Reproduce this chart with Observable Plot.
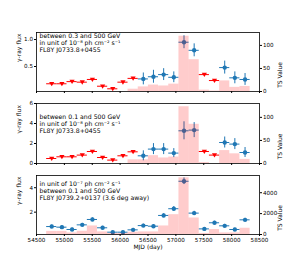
<!DOCTYPE html>
<html><head><meta charset="utf-8">
<script src="https://cdn.jsdelivr.net/npm/d3@7"></script>
<script src="https://cdn.jsdelivr.net/npm/@observablehq/plot@0.6"></script>
<style>
body{margin:0;background:#fff}
#c{position:relative;width:288px;height:264px;overflow:hidden;font-family:"DejaVu Sans";color:#000}
#c svg{position:absolute;left:0;overflow:visible}
</style></head><body><div id="c"></div>
<script>
// MJD bin centres (half-year bins)
const mjd = [54773, 54956, 55138, 55321, 55503, 55686, 55868, 56051, 56233, 56416,
             56598, 56781, 56963, 57146, 57328, 57511, 57693, 57876, 58058, 58241];
const binHalf = 91;
const xTicks = [54500, 55000, 55500, 56000, 56500, 57000, 57500, 58000, 58500];

// Panel 1: 0.3-500 GeV, FL8Y J0733.8+0455 (1e-8)
const flux1 = [0.18, 0.18, 0.22, 0.21, 0.26, 0.135, 0.087, 0.21, 0.28, 0.27,
               0.31, 0.35, 0.30, 0.95, 0.80, 0.35, 0.24, 0.48, 0.29, 0.26];
const err1  = [0, 0, 0, 0, 0, 0, 0, 0, 0, 0.11,
               0.12, 0.11, 0.10, 0.12, 0.12, 0, 0, 0.12, 0.11, 0.11];
const ul1   = [1, 1, 1, 1, 1, 1, 1, 1, 1, 0, 0, 0, 0, 0, 0, 1, 1, 0, 0, 0];
const ts1   = [0, 0, 0, 0, 0, 0, 0, 0, 5, 10, 14, 12, 16, 120, 69, 3, 1, 23, 9, 11];

// Panel 2: 0.1-500 GeV, FL8Y J0733.8+0455 (1e-8)
const flux2 = [0.5, 0.67, 0.67, 0.84, 1.2, 0.6, 0.34, 0.77, 1.17, 0.77,
               1.44, 1.44, 1.04, 3.27, 3.34, 1.2, 0.84, 2.1, 1.94, 1.1];
const err2  = [0, 0, 0, 0, 0, 0, 0, 0, 0, 0.5,
               0.55, 0.55, 0.45, 0.9, 0.75, 0, 0, 0.55, 0.55, 0.5];
const ul2   = [1, 1, 1, 1, 1, 1, 1, 1, 1, 0, 0, 0, 0, 0, 0, 1, 1, 0, 0, 0];
const ts2   = [0, 0, 0, 0, 0, 0, 0, 0, 8, 8, 17, 12, 14, 123, 85, 2, 0, 28, 21, 9];

// Panel 3: 0.1-500 GeV, FL8Y J0739.2+0137 (1e-7)
const flux3 = [0.82, 0.77, 0.58, 0.96, 1.4, 0.72, 0.36, 0.36, 0.55, 0.9,
               0.85, 1.73, 2.28, 4.53, 1.92, 0.63, 1.13, 0.88, 0.58, 1.37];
const err3  = [0.12, 0.12, 0.12, 0.12, 0.13, 0.12, 0.1, 0.1, 0.12, 0.12,
               0.12, 0.15, 0.18, 0.27, 0.15, 0.1, 0.12, 0.12, 0.1, 0.13];
const ul3   = [0, 0, 0, 0, 0, 0, 0, 0, 0, 0, 0, 0, 0, 0, 0, 0, 0, 0, 0, 0];
const ts3   = [300, 300, 150, 310, 820, 250, 100, 100, 220, 250,
               250, 820, 1900, 5430, 1580, 100, 480, 150, 150, 600];

const text1 = "between 0.3 and 500 GeV\nin unit of 10\u207B\u2078 ph cm\u207B\u00B2 s\u207B\u00B9\nFL8Y J0733.8+0455";
const text2 = "between 0.1 and 500 GeV\nin unit of 10\u207B\u2078 ph cm\u207B\u00B2 s\u207B\u00B9\nFL8Y J0733.8+0455";
const text3 = "in unit of 10\u207B\u2077 ph cm\u207B\u00B2 s\u207B\u00B9\nbetween 0.1 and 500 GeV\nFL8Y J0739.2+0137 (3.6 deg away)";

const blue = "#1f77b4";
const triDown = {draw(ctx, size) {
  const r = Math.sqrt(size / Math.PI);
  ctx.moveTo(-r, -r * 0.7);
  ctx.lineTo(r, -r * 0.7);
  ctx.lineTo(0, r * 0.95);
  ctx.closePath();
}};

function panel(o) {
  const [y0, y1] = o.yDomain;
  const toY = t => y0 + t / o.tsMax * (y1 - y0);
  const fromY = v => (v - y0) / (y1 - y0) * o.tsMax;
  const rows = mjd.map((m, i) => ({m, f: o.flux[i], e: o.err[i], ul: o.ul[i], ts: o.ts[i]}));
  const det = rows.filter(d => !d.ul);
  const lim = rows.filter(d => d.ul);
  const svg = Plot.plot({
    width: 288, height: o.height,
    marginLeft: 36, marginRight: 29, marginTop: o.mt, marginBottom: o.mb,
    style: {fontFamily: "DejaVu Sans", fontSize: "5.6px", background: "transparent", overflow: "visible", color: "#000"},
    x: {domain: [54500, 58500]},
    y: {domain: o.yDomain},
    marks: [
      Plot.ruleY(det, {x1: d => d.m - binHalf, x2: d => d.m + binHalf, y: "f", stroke: blue, strokeWidth: 1}),
      Plot.ruleX(det, {x: "m", y1: d => d.f - d.e, y2: d => d.f + d.e, stroke: blue, strokeWidth: 1}),
      Plot.dot(det, {x: "m", y: "f", r: 2.2, fill: blue, stroke: null}),
      Plot.ruleY(lim, {x1: d => d.m - binHalf, x2: d => d.m + binHalf, y: "f", stroke: "red", strokeWidth: 1}),
      Plot.dot(lim, {x: "m", y: "f", r: 2.6, symbol: triDown, fill: "red", stroke: null}),
      Plot.rectY(rows, {x1: d => d.m - binHalf, x2: d => d.m + binHalf, y1: () => y0, y2: d => toY(d.ts), fill: "red", fillOpacity: 0.2}),
      Plot.frame({stroke: "black", strokeWidth: 0.8}),
      Plot.axisY({anchor: "left", ticks: o.yTicks, tickFormat: o.yFmt, tickSize: 2, tickPadding: 1.5, label: null}),
      Plot.axisY(o.tsTicks.map(toY), {anchor: "right", tickFormat: v => String(Math.round(fromY(v))), tickSize: 2, tickPadding: 1.5, label: null}),
      Plot.axisX({ticks: xTicks, tickFormat: o.xLabels ? d3.format("d") : () => "", tickSize: 2, tickPadding: 1.5, label: null}),
      Plot.text([o.text], {text: d => d, frameAnchor: "top-left", lineAnchor: "top", dx: 3, dy: o.textDy, fontSize: 6.2, lineHeight: 1.12, fill: "black"}),
      Plot.text(["\u03B3-ray flux"], {text: d => d, frameAnchor: "left", rotate: -90, dx: -17, fontSize: 6, fill: "black"}),
      Plot.text(["TS Value"], {text: d => d, frameAnchor: "right", rotate: -90, dx: 21, fontSize: 6, fill: "black"}),
      ...(o.xLabels ? [Plot.text(["MJD (day)"], {text: d => d, frameAnchor: "bottom", dy: 14.5, fontSize: 6, fill: "black"})] : [])
    ]
  });
  svg.style.top = o.top + "px";
  document.getElementById("c").appendChild(svg);
}

panel({top: 0, height: 97, mt: 32, mb: 6, yDomain: [0.037, 1.13], yTicks: [0.5, 1.0], yFmt: d3.format(".1f"),
       flux: flux1, err: err1, ul: ul1, ts: ts1, tsMax: 128, tsTicks: [0, 50, 100], text: text1, textDy: 1, xLabels: false});
panel({top: 97, height: 72, mt: 6, mb: 6, yDomain: [0, 6], yTicks: [0, 2, 4, 6], yFmt: d3.format("d"),
       flux: flux2, err: err2, ul: ul2, ts: ts2, tsMax: 130, tsTicks: [0, 50, 100], text: text2, textDy: 10.5, xLabels: false});
panel({top: 169, height: 95, mt: 6, mb: 30, yDomain: [0.17, 5.0], yTicks: [2, 4], yFmt: d3.format("d"),
       flux: flux3, err: err3, ul: ul3, ts: ts3, tsMax: 5650, tsTicks: [0, 2000, 4000], text: text3, textDy: 5.5, xLabels: true});
</script></body></html>
